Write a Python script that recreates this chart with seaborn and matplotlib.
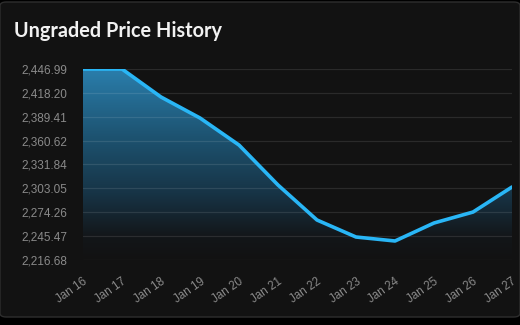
import numpy as np
import pandas as pd
import matplotlib
matplotlib.use("Agg")
import matplotlib.pyplot as plt
import seaborn as sns
from matplotlib.patches import FancyBboxPatch
from matplotlib.colors import LinearSegmentedColormap

dates = ["Jan 16", "Jan 17", "Jan 18", "Jan 19", "Jan 20", "Jan 21",
         "Jan 22", "Jan 23", "Jan 24", "Jan 25", "Jan 26", "Jan 27"]
prices = [2446.99, 2446.99, 2413.2, 2387.9, 2355.3, 2307.1,
          2264.9, 2244.4, 2239.6, 2261.3, 2274.5, 2304.7]
y_ticks = [2216.68, 2245.47, 2274.26, 2303.05, 2331.84, 2360.62, 2389.41, 2418.20, 2446.99]

df = pd.DataFrame({"date": dates, "price": prices, "idx": range(len(dates))})

sns.set_theme(style="dark")
plt.rcParams['font.family'] = ['Liberation Sans', 'DejaVu Sans']

BG = "#121212"
fig = plt.figure(figsize=(5.2, 3.25), dpi=100)
fig.patch.set_facecolor("#000000")
card = FancyBboxPatch((0.0, 8 / 325), 1.0, 1 - 10 / 325, transform=fig.transFigure,
                      boxstyle="round,pad=0,rounding_size=0.012", facecolor=BG,
                      edgecolor="#2e2e2e", linewidth=1.0, zorder=-5)
fig.patches.append(card)

ax = fig.add_axes([83 / 520, 1 - 260 / 325, (512 - 83) / 520, (260 - 69) / 325])
ax.set_zorder(2)
ax.patch.set_alpha(0)

ymin, ymax = y_ticks[0], y_ticks[-1]
ax.set_xlim(0, len(dates) - 1)
ax.set_ylim(ymin, ymax)

# gradient fill
poly = ax.fill_between(df["idx"], df["price"], ymin, color="none", linewidth=0)
cmap = LinearSegmentedColormap.from_list(
    "g", [(0.0, BG), (0.12, "#131619"), (0.35, "#173446"), (0.65, "#1d5371"), (1.0, "#2a7eac")])
grad = np.linspace(0, 1, 256).reshape(-1, 1)
im = ax.imshow(grad, cmap=cmap, aspect="auto", origin="lower",
               extent=[0, len(dates) - 1, ymin, ymax], zorder=1)
path = poly.get_paths()[0]
im.set_clip_path(path, transform=ax.transData)

sns.lineplot(data=df, x="idx", y="price", ax=ax, color="#29b6f6", linewidth=2.6,
             zorder=3, solid_joinstyle="round")

ax.set_yticks(y_ticks)
ax.set_yticklabels([f"{v:,.2f}" for v in y_ticks])
ax.set_xticks(df["idx"])
ax.set_xticklabels(dates, rotation=35, ha="right", rotation_mode="anchor")
ax.tick_params(axis="y", colors="#8a8a8a", labelsize=8.5, pad=11.5, length=0)
ax.tick_params(axis="x", colors="#8a8a8a", labelsize=8.4, pad=11, length=0)
ax.grid(axis="y", color="#ffffff", alpha=0.1, linewidth=0.9, zorder=2)
ax.set_axisbelow(False)
for gl in ax.get_ygridlines():
    gl.set_zorder(2)
ax.grid(axis="x", visible=False)
for s in ax.spines.values():
    s.set_visible(False)
ax.set_xlabel("")
ax.set_ylabel("")

fig.text(14 / 520, 1 - 31 / 325, "Ungraded Price History", color="#f2f2f2",
         fontsize=14.3, fontweight="bold", family=["Lato", "DejaVu Sans"], va="center", ha="left")

fig.savefig("out.png", dpi=100, facecolor=fig.get_facecolor())
